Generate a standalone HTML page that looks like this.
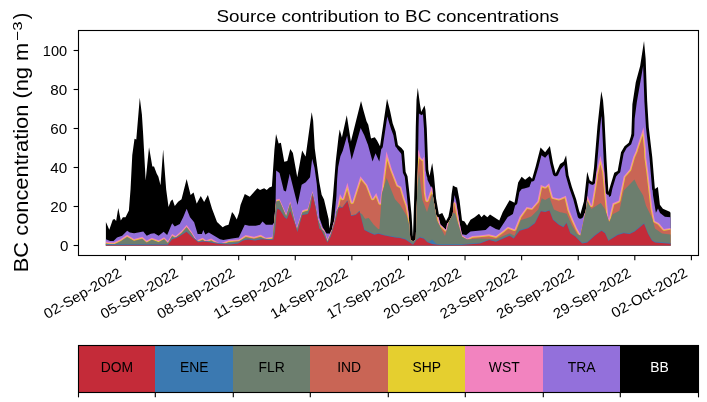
<!DOCTYPE html>
<html><head><meta charset="utf-8"><style>
html,body{margin:0;padding:0;background:#fff;}
body{width:707px;height:402px;overflow:hidden;font-family:"Liberation Sans",sans-serif;}
svg{display:block;will-change:transform;}
</style></head><body>
<svg width="707" height="402" viewBox="0 0 707 402">
<rect width="707" height="402" fill="#fff"/>
<g>
<polygon fill="#000000" points="105.90,245.5 105.90,222.00 109.28,229.84 112.78,219.66 114.40,218.90 116.15,220.94 118.28,207.96 120.78,220.48 122.90,217.20 125.53,217.15 128.90,210.40 130.53,189.49 132.28,154.96 134.53,138.81 136.28,139.39 139.78,97.86 141.90,114.57 143.15,134.21 145.65,180.50 149.03,147.35 152.28,166.35 152.40,166.49 154.03,166.47 156.65,173.40 158.40,176.80 160.53,185.20 163.15,149.46 166.15,189.34 168.53,206.93 170.65,201.16 172.40,199.59 172.53,199.57 174.78,205.91 178.15,201.86 181.53,199.20 186.65,179.10 190.53,194.80 190.65,195.06 193.53,192.56 193.65,192.68 196.65,203.52 196.78,203.56 200.78,196.05 204.15,201.91 207.90,195.10 212.03,208.77 217.03,222.10 222.65,227.37 225.15,225.73 228.53,224.82 232.03,212.03 234.03,214.54 236.78,219.46 239.03,212.87 240.53,204.94 244.78,194.06 249.78,196.69 257.40,188.20 260.02,189.89 264.15,188.22 266.77,189.88 269.27,187.43 271.90,186.50 274.40,150.00 276.02,134.09 278.65,143.58 280.90,142.70 284.27,161.66 284.40,161.77 287.27,161.01 290.27,148.90 292.90,152.94 297.27,177.36 302.15,150.59 305.52,156.47 305.65,156.24 311.65,112.56 311.77,112.62 313.15,120.87 314.77,148.56 319.27,182.01 321.65,194.73 324.02,199.41 328.65,219.29 329.27,228.41 330.52,221.74 333.02,195.69 335.77,161.34 338.52,137.06 339.65,129.72 339.77,129.68 341.90,137.60 346.77,115.31 350.90,141.50 361.02,101.10 363.15,109.37 366.52,121.14 368.27,124.75 371.02,138.39 374.77,137.31 377.02,140.55 380.02,146.33 387.02,98.80 390.15,111.14 392.65,123.16 395.65,131.86 397.90,145.10 401.52,148.04 403.90,151.00 405.65,172.11 407.52,176.23 409.52,194.32 411.52,214.73 412.77,235.22 413.02,236.79 415.15,166.88 415.77,127.19 416.52,99.76 417.77,87.64 419.90,103.90 421.15,111.69 421.27,111.85 424.52,105.45 425.52,110.36 426.77,128.44 428.27,169.41 429.40,175.50 429.52,175.88 432.15,163.24 432.27,163.54 434.02,176.27 436.02,198.14 438.90,214.50 442.27,213.01 446.02,220.96 448.40,216.80 450.52,206.05 451.52,194.82 452.90,185.46 455.52,187.01 457.15,187.49 459.52,200.21 462.02,220.61 464.52,221.44 467.02,225.58 467.15,225.61 470.52,219.69 474.65,217.23 479.02,213.83 481.52,217.17 484.02,214.62 487.40,217.20 490.02,214.62 499.27,220.58 502.77,211.97 509.52,200.21 514.52,202.66 518.15,182.58 521.65,176.78 525.15,179.66 529.52,176.22 532.02,178.72 532.15,178.63 535.65,166.40 540.52,147.43 545.15,152.25 549.90,146.00 553.02,163.20 555.65,173.49 560.02,163.98 563.52,161.74 566.02,155.58 566.15,155.81 568.52,175.29 571.90,187.10 576.15,199.20 579.15,210.95 580.40,214.00 583.90,201.50 587.15,172.25 587.27,172.05 589.65,180.13 592.27,181.98 594.02,167.70 597.52,125.77 601.27,91.23 603.02,100.30 604.40,117.00 606.52,160.42 608.40,191.90 614.27,172.68 617.65,170.93 621.02,152.26 624.52,146.18 628.77,142.72 630.77,136.70 631.40,133.82 632.40,104.34 635.77,82.16 640.15,66.08 644.02,41.08 645.65,58.81 647.15,100.82 648.77,127.49 652.27,157.29 654.90,188.90 657.90,186.90 659.90,204.80 662.90,208.80 669.77,211.69 670.52,212.64 670.60,245.5"/>
<polygon fill="#9370db" points="105.90,245.5 105.90,239.20 110.15,240.88 113.53,240.90 117.03,237.49 122.15,235.75 127.15,230.75 129.78,232.42 134.03,233.29 138.15,232.41 143.28,231.60 146.78,235.76 150.90,233.80 154.28,233.30 158.65,235.76 163.65,231.64 167.15,234.88 172.15,223.22 174.78,226.46 179.78,224.01 183.15,217.30 186.65,208.83 190.03,217.23 194.15,222.24 197.65,234.10 201.90,234.10 203.28,230.06 205.28,234.45 208.78,232.45 220.03,239.21 223.40,240.07 232.03,238.40 238.78,237.50 244.78,224.82 249.03,225.70 255.78,225.68 260.02,224.77 262.52,221.42 265.90,224.80 272.65,224.80 273.90,222.86 274.02,222.26 275.52,205.81 276.15,170.44 279.52,173.00 283.77,190.60 285.90,191.56 289.65,174.04 289.77,174.10 297.52,204.88 301.65,184.77 305.77,182.31 310.02,177.29 312.15,158.69 314.52,167.67 316.77,183.93 319.40,217.69 322.90,227.70 326.52,233.38 330.02,233.50 331.15,230.51 332.02,229.21 332.77,225.23 334.02,221.17 336.40,196.07 337.15,178.90 338.15,166.93 340.40,156.30 342.77,150.74 347.15,135.61 348.15,142.03 348.65,143.51 351.65,159.82 360.65,128.00 364.27,135.35 368.02,145.09 372.52,161.43 375.52,153.35 379.27,161.45 381.27,148.96 382.27,148.00 382.77,146.86 387.27,116.40 391.15,129.23 393.40,135.21 395.27,146.07 395.77,146.92 396.90,147.89 397.27,148.89 400.90,153.30 401.40,154.62 402.90,172.63 404.77,176.79 406.77,194.85 408.77,215.26 410.27,238.74 410.77,239.88 411.65,240.65 412.77,241.00 414.02,240.83 415.15,240.04 415.77,238.74 417.90,167.40 418.52,127.71 418.90,113.65 419.02,113.52 419.90,114.29 421.02,114.64 421.27,115.24 422.90,114.13 423.02,114.50 424.02,128.97 425.52,169.93 426.65,176.03 427.27,177.55 427.52,180.05 431.27,187.82 431.90,186.30 432.40,189.18 433.27,198.67 436.27,215.47 437.15,216.69 438.52,217.27 440.40,224.40 445.90,229.80 447.15,223.52 447.90,223.04 448.40,222.44 452.40,215.44 452.77,214.21 454.40,194.98 456.02,200.37 459.27,221.13 461.90,234.24 466.15,234.99 470.52,231.60 485.65,229.91 490.02,225.71 495.90,229.00 499.27,229.89 507.77,217.04 512.90,214.00 515.02,205.67 515.15,205.39 516.52,204.62 517.27,203.39 519.40,192.11 521.77,188.99 524.27,188.50 529.40,187.03 531.40,181.45 532.27,181.51 533.15,181.29 534.02,180.71 534.52,180.11 538.27,167.39 541.40,155.18 545.15,157.86 548.40,153.96 550.27,163.73 552.77,173.82 553.15,174.78 554.02,175.77 554.90,176.19 555.90,176.28 556.90,176.00 557.65,175.45 558.15,174.75 560.65,169.33 564.40,164.89 565.77,175.81 569.27,188.07 573.40,199.76 577.77,216.87 578.27,217.72 579.15,218.41 580.15,218.69 581.27,218.56 582.15,218.09 582.77,217.38 585.65,211.33 588.77,183.04 590.90,184.42 592.52,184.82 593.02,185.32 593.27,184.60 594.52,183.65 595.02,182.51 596.77,168.23 600.27,126.30 601.40,115.93 601.65,117.53 603.77,160.95 605.65,192.53 606.02,193.48 606.77,194.28 607.65,194.70 608.65,194.79 609.02,196.98 610.90,195.67 612.40,188.45 616.02,176.55 618.40,173.74 619.77,172.75 620.27,171.90 623.65,153.39 626.65,148.08 630.65,144.80 631.15,144.20 634.15,135.33 634.65,118.77 636.77,102.57 643.15,65.98 644.40,101.35 646.02,128.02 649.52,157.82 652.15,189.43 652.65,190.57 653.02,195.15 655.90,212.70 658.02,208.56 660.02,213.02 664.90,216.70 670.52,217.37 670.60,245.5"/>
<polygon fill="#f283bf" points="105.90,245.5 105.90,241.60 110.15,242.30 113.65,242.48 120.40,239.30 127.15,234.83 134.03,238.99 142.40,236.80 146.65,240.56 151.78,237.71 158.65,240.27 164.15,237.23 167.90,241.10 172.15,233.88 175.65,235.96 181.53,230.87 186.65,225.07 191.65,231.63 196.78,240.16 202.65,237.72 206.15,240.28 211.15,238.52 219.28,243.18 220.65,243.33 228.65,240.20 238.78,239.40 245.65,235.11 254.03,236.79 260.77,234.81 265.90,237.70 272.65,236.81 276.15,199.49 279.52,198.66 286.15,214.08 290.15,201.46 290.27,201.61 296.65,227.79 302.27,210.28 307.90,208.60 312.52,190.92 317.90,217.10 321.65,227.17 324.15,229.75 327.40,239.30 330.52,232.46 331.15,230.51 331.77,229.72 332.15,228.76 332.77,225.23 334.65,219.06 339.90,193.90 342.65,198.52 342.77,198.35 347.40,182.70 352.15,202.14 360.40,176.20 367.40,185.00 372.52,198.40 372.65,198.52 376.27,193.04 380.02,203.00 386.40,151.30 392.02,169.76 397.90,185.00 401.27,186.69 404.65,198.33 407.15,205.16 408.40,211.66 408.77,215.26 410.27,238.74 410.65,239.70 411.52,240.58 412.65,240.99 413.77,240.91 415.02,240.17 415.77,238.74 417.15,195.53 418.15,152.10 418.52,149.40 420.52,157.33 422.40,159.30 424.15,156.38 425.65,191.10 425.77,192.76 427.02,200.23 431.90,186.30 432.40,189.18 433.27,198.67 436.27,215.47 437.15,216.69 438.52,217.27 440.40,224.40 445.90,229.80 447.15,223.52 447.90,223.04 448.40,222.44 452.52,215.15 452.77,214.21 453.90,201.20 456.02,203.03 459.27,221.13 462.02,235.12 467.02,238.45 472.27,235.99 479.02,235.50 489.02,234.31 495.90,236.00 502.65,230.94 507.77,226.72 514.52,229.17 519.65,216.62 526.40,207.24 526.52,207.10 531.65,207.94 537.40,201.32 540.77,185.12 540.90,185.04 545.15,186.78 549.15,183.34 553.02,197.31 558.77,198.59 560.02,198.29 565.90,195.70 569.40,210.35 573.02,219.36 576.90,228.07 580.40,234.30 583.15,222.92 584.27,214.36 585.65,211.33 587.40,195.78 591.40,205.30 595.90,178.12 596.02,174.89 600.40,155.70 603.52,169.85 604.15,171.64 604.90,179.90 605.65,192.53 606.15,193.67 606.27,194.64 608.65,219.59 612.65,203.28 618.52,200.83 618.65,200.56 623.65,176.44 629.65,169.23 633.15,156.98 635.90,150.77 636.02,149.92 643.52,127.23 645.90,149.04 646.27,157.63 648.27,172.61 652.40,208.43 654.90,221.00 658.90,223.00 663.90,228.90 670.52,227.94 670.60,245.5"/>
<polygon fill="#e5cf2f" points="105.90,245.5 105.90,242.71 110.03,243.40 114.03,243.51 120.90,240.28 127.28,236.14 133.90,240.09 142.03,238.03 146.40,241.63 147.28,241.54 151.90,238.92 158.65,241.37 159.15,241.25 164.03,238.61 167.15,241.90 167.65,242.17 168.15,242.17 168.78,241.71 172.53,235.40 175.15,236.99 175.78,237.05 176.28,236.86 182.28,231.68 186.53,226.77 190.78,232.30 194.53,238.47 197.65,241.03 202.53,238.97 205.40,241.07 206.90,241.18 211.03,239.73 216.53,242.84 220.03,243.30 223.28,243.46 228.90,241.28 239.15,240.44 245.78,236.29 254.03,237.89 260.65,235.99 265.77,238.79 272.77,237.90 276.02,202.42 276.15,201.59 277.02,201.36 277.15,200.36 278.77,199.93 279.27,200.76 279.52,200.76 285.65,215.02 285.90,215.15 286.52,215.12 286.65,214.85 290.15,203.56 290.27,203.71 295.02,223.19 296.65,228.74 296.90,228.87 297.15,228.67 302.27,212.38 302.77,212.16 303.27,211.06 308.15,209.67 312.52,193.02 315.15,205.09 317.90,219.20 321.40,228.54 323.15,230.21 323.52,231.15 324.15,231.85 327.02,240.30 327.77,240.33 330.65,234.24 334.52,221.64 336.15,213.99 336.27,211.86 337.90,208.78 340.40,196.92 342.02,199.42 342.90,199.59 343.65,199.01 347.27,186.96 351.02,202.45 351.77,203.18 352.27,203.24 352.77,203.05 353.15,202.60 360.90,178.60 366.40,185.51 371.65,199.07 372.52,199.62 373.40,199.33 376.02,195.46 378.90,203.38 379.27,203.83 379.90,204.09 380.40,204.03 380.90,203.66 381.15,203.00 381.40,200.97 381.90,193.70 382.65,190.83 386.90,156.69 391.02,170.22 396.90,185.46 397.40,185.98 400.40,187.51 403.65,198.78 406.15,205.70 409.15,221.60 410.27,238.74 410.65,239.70 411.52,240.58 412.65,240.99 413.77,240.91 415.02,240.17 415.77,238.74 418.02,162.10 418.90,155.40 419.65,157.99 421.77,160.21 422.52,160.39 423.15,160.10 424.52,191.10 424.65,192.76 426.02,200.69 426.40,201.13 427.02,201.33 427.65,201.13 428.02,200.69 431.65,190.59 432.27,193.65 432.40,193.94 432.52,193.75 436.15,215.03 436.52,215.98 437.27,216.78 439.27,224.66 445.40,230.78 446.02,230.89 446.52,230.64 447.52,227.13 448.52,222.22 452.52,215.15 452.77,214.21 453.77,202.51 455.02,203.70 459.77,229.20 461.90,236.36 466.90,239.44 467.77,239.39 472.52,237.08 479.15,236.59 489.02,235.42 496.15,237.07 503.27,231.84 508.02,227.95 514.15,230.21 515.02,230.15 515.65,229.53 520.65,217.08 526.90,208.42 527.02,208.31 531.40,209.08 532.15,208.92 538.27,201.98 538.65,201.08 541.65,186.54 545.27,187.87 545.90,187.64 548.52,185.35 551.90,197.39 552.40,198.21 558.90,199.69 560.40,199.32 565.15,197.29 568.40,210.81 572.02,219.81 576.02,228.80 579.52,234.97 580.40,235.40 585.65,211.33 586.65,204.17 587.65,199.21 590.52,205.97 591.15,206.37 591.77,206.33 592.27,205.97 592.52,205.30 597.02,178.12 597.15,174.89 600.40,160.79 602.40,169.85 603.02,171.64 607.15,215.96 608.65,220.69 609.27,220.50 609.77,219.59 613.52,204.13 619.02,201.81 619.65,201.02 624.77,176.64 630.65,169.68 634.15,157.43 636.90,151.23 637.15,150.00 643.02,132.27 644.77,149.04 645.15,157.63 647.15,172.61 651.27,208.43 653.90,221.46 654.40,221.98 658.27,223.96 663.40,229.88 664.02,229.99 670.52,229.05 670.60,245.5"/>
<polygon fill="#c96555" points="105.90,245.5 105.90,243.42 110.03,244.10 114.28,244.16 121.03,240.99 127.15,236.93 133.15,240.57 133.78,240.78 134.40,240.75 141.90,238.79 142.40,238.90 146.15,242.21 146.53,242.35 147.53,242.19 151.90,239.71 157.90,241.96 158.90,242.05 164.15,239.33 167.53,242.80 168.03,242.89 172.15,235.98 174.90,237.64 177.03,236.84 181.53,232.97 186.65,227.17 191.65,233.73 194.53,238.47 198.28,241.49 202.40,239.78 202.78,239.86 204.28,240.98 208.40,241.38 211.03,240.48 214.78,242.61 220.03,243.30 225.03,243.55 229.03,241.97 239.40,241.09 246.03,237.02 254.03,238.59 260.52,236.75 264.27,238.80 268.52,239.17 272.65,238.62 276.15,201.59 277.77,201.16 277.90,200.88 278.40,200.75 278.65,200.93 279.52,200.76 286.02,215.88 286.27,215.88 286.40,215.66 290.15,203.56 290.27,203.71 294.90,222.71 296.90,229.46 302.27,212.38 303.65,211.91 303.77,211.65 307.90,210.47 308.02,210.22 312.52,193.02 315.15,205.09 317.90,219.20 321.65,229.27 324.15,231.85 327.27,241.03 327.52,241.09 330.65,234.24 334.65,221.16 336.15,213.99 336.27,211.86 339.15,206.42 340.77,198.87 341.40,199.81 342.40,200.30 343.52,200.09 344.27,199.33 347.15,189.92 350.40,202.76 350.90,203.44 351.77,203.90 352.65,203.87 353.40,203.44 353.90,202.60 361.15,180.03 365.77,185.84 371.15,199.56 372.27,200.28 373.52,200.10 374.02,199.68 375.77,197.05 378.52,204.08 379.15,204.57 379.77,204.78 380.52,204.72 381.15,204.39 381.90,193.70 383.90,186.78 387.27,160.38 390.27,170.22 396.27,185.77 396.90,186.50 399.77,187.95 402.90,198.78 405.40,205.70 408.90,224.25 409.40,226.12 410.27,238.74 410.65,239.70 411.52,240.58 412.65,240.99 413.77,240.91 415.02,240.17 415.77,238.74 417.52,182.79 418.40,165.10 419.27,158.62 421.40,160.80 422.52,161.10 423.77,191.10 423.90,192.76 425.27,200.69 425.77,201.52 426.65,201.99 427.52,201.95 428.27,201.52 428.77,200.69 431.40,193.19 431.90,195.49 432.52,193.75 435.90,214.27 437.90,222.22 440.40,226.89 445.15,231.43 446.27,231.52 449.27,220.97 452.52,215.15 452.77,214.21 453.65,203.30 454.27,203.81 454.40,204.38 457.77,222.47 462.02,236.71 466.90,239.44 469.52,239.29 472.77,237.76 479.27,237.28 488.90,236.14 495.52,237.76 496.27,237.76 496.90,237.50 503.65,232.43 508.15,228.75 514.02,230.90 515.27,230.81 516.27,229.85 521.27,217.40 527.27,209.09 531.40,209.78 532.52,209.51 538.90,202.30 539.40,201.08 542.15,187.58 544.52,188.47 545.40,188.56 546.27,188.23 548.15,186.61 551.15,197.39 551.52,198.29 552.02,198.80 558.77,200.39 560.65,199.98 564.65,198.35 567.52,210.45 571.40,220.13 575.40,229.12 578.52,234.63 580.40,235.70 585.65,211.33 587.15,201.32 587.27,201.14 587.77,202.10 587.90,201.61 589.40,205.18 590.40,206.80 591.15,207.08 592.02,206.99 592.65,206.59 593.15,205.76 597.77,178.12 597.90,174.89 600.40,164.19 601.65,169.85 602.27,171.64 606.02,212.22 608.77,221.14 608.90,221.38 609.65,221.09 610.77,218.56 614.15,204.64 619.40,202.40 619.90,201.99 620.40,201.02 625.40,177.04 630.90,170.64 631.27,170.00 634.90,157.43 637.65,151.23 637.90,150.00 642.65,135.86 644.02,149.04 644.40,157.63 646.40,172.61 650.52,208.43 653.15,221.46 653.90,222.50 657.77,224.45 662.52,230.06 663.15,230.53 664.15,230.68 670.52,229.76 670.60,245.5"/>
<polygon fill="#6c7e6e" points="105.90,245.5 105.90,243.70 108.90,244.20 114.53,244.16 120.40,241.40 127.15,236.93 134.03,241.09 142.40,238.90 146.65,242.66 151.78,239.81 158.65,242.37 164.15,239.33 167.90,243.20 172.15,235.98 174.90,237.65 177.03,236.84 181.53,232.97 186.65,227.17 191.65,233.73 194.53,238.47 198.28,241.49 198.90,241.41 202.65,239.82 204.28,240.98 208.78,241.45 211.15,240.62 214.65,242.59 220.03,243.30 225.40,243.57 228.65,242.30 238.78,241.50 245.65,237.21 254.03,238.89 260.77,236.91 264.15,238.79 269.77,239.28 272.65,238.91 276.15,201.59 279.52,200.76 286.15,216.18 290.15,203.56 290.27,203.71 294.90,222.71 296.90,229.46 302.27,212.38 307.90,210.70 312.52,193.02 315.15,205.09 317.90,219.20 321.65,229.27 324.15,231.85 327.40,241.40 330.65,234.24 334.52,221.64 336.15,213.99 336.27,211.86 339.90,205.00 341.15,206.94 342.65,206.90 347.40,200.40 351.15,215.29 355.77,214.40 359.52,210.80 360.15,213.26 362.02,214.04 365.02,218.68 365.15,218.79 368.77,217.91 373.52,224.42 378.15,229.05 379.40,229.01 381.90,193.70 386.65,177.93 391.15,189.77 395.02,199.33 400.02,204.84 406.65,215.92 409.40,226.12 410.15,237.85 410.40,239.19 410.90,240.04 411.65,240.65 412.65,240.99 413.65,240.94 415.02,240.17 415.77,238.74 417.40,186.56 419.02,171.41 422.40,200.00 426.90,211.74 427.02,211.92 432.52,193.75 436.90,220.40 445.02,235.91 449.27,220.97 452.52,215.15 452.90,212.65 455.15,213.78 455.27,214.05 462.02,236.71 467.02,239.50 479.02,238.50 495.90,239.00 509.52,233.31 514.52,235.76 520.90,220.00 526.02,218.49 531.27,216.51 538.27,209.62 541.77,198.34 545.15,199.98 549.52,197.44 553.90,209.60 560.02,212.20 562.02,212.51 566.77,213.69 571.90,225.60 576.90,233.84 580.40,235.70 585.65,211.33 587.27,201.14 591.40,209.00 600.65,203.03 600.77,203.11 605.02,209.18 609.15,222.34 609.27,222.32 612.65,214.18 619.40,210.80 623.77,190.42 634.40,179.40 638.15,187.18 643.15,195.52 646.02,205.85 651.90,217.70 655.02,228.62 662.02,233.50 670.52,234.57 670.60,245.5"/>
<polygon fill="#3b79b1" points="105.90,245.5 105.90,244.20 167.90,244.00 172.15,238.56 176.40,237.20 181.53,234.28 186.53,230.95 192.53,236.82 198.28,241.49 203.40,240.90 208.03,241.30 214.65,242.59 220.03,243.30 230.03,243.80 238.03,242.78 243.03,239.80 248.03,238.80 255.03,239.80 262.02,238.60 270.02,239.30 273.40,238.81 275.02,230.97 276.52,211.21 277.52,207.81 280.02,209.34 284.52,216.58 286.90,218.23 290.15,210.33 290.27,210.40 295.02,223.19 297.40,231.30 302.27,214.29 307.90,213.40 310.40,207.00 312.52,194.10 315.27,205.72 319.27,227.86 321.77,229.76 327.40,241.70 330.65,235.94 334.65,222.90 338.65,207.20 338.77,207.00 342.65,206.90 347.40,200.40 351.15,215.29 355.77,214.40 359.52,210.80 364.27,229.34 369.77,232.09 374.40,234.00 378.27,233.12 384.77,234.91 395.02,236.80 400.02,237.41 405.40,238.77 409.52,241.45 413.02,244.16 416.40,239.40 419.77,236.72 423.90,238.10 427.40,241.50 429.02,242.10 432.02,239.53 435.90,243.50 436.02,243.86 439.15,244.20 461.27,244.20 479.90,242.81 489.15,239.41 495.90,241.10 509.52,235.12 513.77,237.68 519.65,230.07 528.15,227.51 534.90,222.48 540.90,210.50 545.15,211.39 549.40,209.70 552.90,219.09 558.77,224.08 563.40,226.60 566.52,222.37 570.27,232.55 575.27,235.88 582.15,242.69 587.27,241.73 594.77,235.02 601.52,230.06 605.02,232.56 608.40,240.10 617.77,234.18 623.65,232.51 629.65,233.28 634.77,230.74 644.02,223.06 648.02,232.94 651.90,239.80 655.02,241.80 670.52,243.08 670.60,245.5"/>
<polygon fill="#c42b39" points="105.90,245.5 105.90,244.90 167.90,244.70 172.15,239.26 176.40,237.90 181.53,234.98 186.53,231.65 192.53,237.52 198.28,242.19 203.40,241.60 208.03,242.00 214.65,243.29 220.03,244.00 230.03,244.50 238.03,243.48 243.03,240.50 248.03,239.50 255.03,240.50 262.02,239.30 270.02,240.00 273.40,239.51 275.02,231.67 276.52,211.91 277.52,208.51 280.02,210.04 284.52,217.28 286.90,218.93 290.15,211.03 290.27,211.10 295.02,223.89 297.40,232.00 302.27,214.99 307.90,214.10 310.40,207.70 312.52,194.80 315.27,206.42 319.27,228.56 321.77,230.46 327.40,242.40 330.65,236.64 334.65,223.60 338.65,207.90 338.77,207.70 342.65,207.60 347.40,201.10 351.15,215.99 355.77,215.10 359.52,211.50 364.27,230.04 369.77,232.79 374.40,234.70 378.27,233.82 384.77,235.61 395.02,237.50 400.02,238.11 405.40,239.47 409.52,242.15 413.02,244.86 416.40,240.10 419.77,237.42 423.90,238.80 427.40,242.20 432.77,244.19 439.15,244.90 461.27,244.90 479.90,243.51 489.15,240.11 495.90,241.80 509.52,235.82 513.77,238.38 519.65,230.77 528.15,228.21 534.90,223.18 540.90,211.20 545.15,212.09 549.40,210.40 552.90,219.78 558.77,224.78 563.40,227.30 566.52,223.07 570.27,233.25 575.27,236.58 582.15,243.39 587.27,242.43 594.77,235.72 601.52,230.76 605.02,233.26 608.40,240.80 617.77,234.88 623.65,233.21 629.65,233.98 634.77,231.44 644.02,223.76 648.02,233.64 651.90,240.50 655.02,242.50 670.52,243.78 670.60,245.5"/>
</g>
<rect x="78.5" y="30.5" width="620.0" height="225.0" fill="none" stroke="#000" stroke-width="1.11"/>
<text x="387.8" y="22.1" font-family="Liberation Sans, sans-serif" font-size="17.0" text-anchor="middle" textLength="342.5" lengthAdjust="spacingAndGlyphs">Source contribution to BC concentrations</text>
<line x1="73.6" y1="245.5" x2="78.5" y2="245.5" stroke="#000" stroke-width="1.11"/>
<text x="68.5" y="250.55" font-family="Liberation Sans, sans-serif" font-size="14.2" text-anchor="end" textLength="8.4" lengthAdjust="spacingAndGlyphs">0</text>
<line x1="73.6" y1="206.5" x2="78.5" y2="206.5" stroke="#000" stroke-width="1.11"/>
<text x="67.1" y="211.55" font-family="Liberation Sans, sans-serif" font-size="14.2" text-anchor="end" textLength="16.9" lengthAdjust="spacingAndGlyphs">20</text>
<line x1="73.6" y1="167.5" x2="78.5" y2="167.5" stroke="#000" stroke-width="1.11"/>
<text x="67.1" y="172.55" font-family="Liberation Sans, sans-serif" font-size="14.2" text-anchor="end" textLength="16.9" lengthAdjust="spacingAndGlyphs">40</text>
<line x1="73.6" y1="128.5" x2="78.5" y2="128.5" stroke="#000" stroke-width="1.11"/>
<text x="67.1" y="133.55" font-family="Liberation Sans, sans-serif" font-size="14.2" text-anchor="end" textLength="16.9" lengthAdjust="spacingAndGlyphs">60</text>
<line x1="73.6" y1="89.5" x2="78.5" y2="89.5" stroke="#000" stroke-width="1.11"/>
<text x="67.1" y="94.55" font-family="Liberation Sans, sans-serif" font-size="14.2" text-anchor="end" textLength="16.9" lengthAdjust="spacingAndGlyphs">80</text>
<line x1="73.6" y1="50.5" x2="78.5" y2="50.5" stroke="#000" stroke-width="1.11"/>
<text x="67.1" y="55.55" font-family="Liberation Sans, sans-serif" font-size="14.2" text-anchor="end" textLength="24.3" lengthAdjust="spacingAndGlyphs">100</text>
<line x1="125.50" y1="255.5" x2="125.50" y2="260.36" stroke="#000" stroke-width="1.11"/>
<text transform="translate(117.40,266.8) rotate(-30)" x="0" y="0" font-family="Liberation Sans, sans-serif" font-size="14.3" text-anchor="end" dominant-baseline="hanging" textLength="86.9" lengthAdjust="spacingAndGlyphs">02-Sep-2022</text>
<line x1="182.09" y1="255.5" x2="182.09" y2="260.36" stroke="#000" stroke-width="1.11"/>
<text transform="translate(173.99,266.8) rotate(-30)" x="0" y="0" font-family="Liberation Sans, sans-serif" font-size="14.3" text-anchor="end" dominant-baseline="hanging" textLength="86.9" lengthAdjust="spacingAndGlyphs">05-Sep-2022</text>
<line x1="238.68" y1="255.5" x2="238.68" y2="260.36" stroke="#000" stroke-width="1.11"/>
<text transform="translate(230.58,266.8) rotate(-30)" x="0" y="0" font-family="Liberation Sans, sans-serif" font-size="14.3" text-anchor="end" dominant-baseline="hanging" textLength="86.9" lengthAdjust="spacingAndGlyphs">08-Sep-2022</text>
<line x1="295.27" y1="255.5" x2="295.27" y2="260.36" stroke="#000" stroke-width="1.11"/>
<text transform="translate(287.17,266.8) rotate(-30)" x="0" y="0" font-family="Liberation Sans, sans-serif" font-size="14.3" text-anchor="end" dominant-baseline="hanging" textLength="86.9" lengthAdjust="spacingAndGlyphs">11-Sep-2022</text>
<line x1="351.86" y1="255.5" x2="351.86" y2="260.36" stroke="#000" stroke-width="1.11"/>
<text transform="translate(343.76,266.8) rotate(-30)" x="0" y="0" font-family="Liberation Sans, sans-serif" font-size="14.3" text-anchor="end" dominant-baseline="hanging" textLength="86.9" lengthAdjust="spacingAndGlyphs">14-Sep-2022</text>
<line x1="408.45" y1="255.5" x2="408.45" y2="260.36" stroke="#000" stroke-width="1.11"/>
<text transform="translate(400.35,266.8) rotate(-30)" x="0" y="0" font-family="Liberation Sans, sans-serif" font-size="14.3" text-anchor="end" dominant-baseline="hanging" textLength="86.9" lengthAdjust="spacingAndGlyphs">17-Sep-2022</text>
<line x1="465.04" y1="255.5" x2="465.04" y2="260.36" stroke="#000" stroke-width="1.11"/>
<text transform="translate(456.94,266.8) rotate(-30)" x="0" y="0" font-family="Liberation Sans, sans-serif" font-size="14.3" text-anchor="end" dominant-baseline="hanging" textLength="86.9" lengthAdjust="spacingAndGlyphs">20-Sep-2022</text>
<line x1="521.63" y1="255.5" x2="521.63" y2="260.36" stroke="#000" stroke-width="1.11"/>
<text transform="translate(513.53,266.8) rotate(-30)" x="0" y="0" font-family="Liberation Sans, sans-serif" font-size="14.3" text-anchor="end" dominant-baseline="hanging" textLength="86.9" lengthAdjust="spacingAndGlyphs">23-Sep-2022</text>
<line x1="578.22" y1="255.5" x2="578.22" y2="260.36" stroke="#000" stroke-width="1.11"/>
<text transform="translate(570.12,266.8) rotate(-30)" x="0" y="0" font-family="Liberation Sans, sans-serif" font-size="14.3" text-anchor="end" dominant-baseline="hanging" textLength="86.9" lengthAdjust="spacingAndGlyphs">26-Sep-2022</text>
<line x1="634.81" y1="255.5" x2="634.81" y2="260.36" stroke="#000" stroke-width="1.11"/>
<text transform="translate(626.71,266.8) rotate(-30)" x="0" y="0" font-family="Liberation Sans, sans-serif" font-size="14.3" text-anchor="end" dominant-baseline="hanging" textLength="86.9" lengthAdjust="spacingAndGlyphs">29-Sep-2022</text>
<line x1="691.40" y1="255.5" x2="691.40" y2="260.36" stroke="#000" stroke-width="1.11"/>
<text transform="translate(683.30,266.8) rotate(-30)" x="0" y="0" font-family="Liberation Sans, sans-serif" font-size="14.3" text-anchor="end" dominant-baseline="hanging" textLength="85.1" lengthAdjust="spacingAndGlyphs">02-Oct-2022</text>
<text transform="translate(27.9,272.2) rotate(-90)" x="0" y="0" font-family="Liberation Sans, sans-serif" font-size="19.44" textLength="229.5" lengthAdjust="spacingAndGlyphs">BC concentration (ng m</text>
<text transform="translate(21.6,40.6) rotate(-90)" x="0" y="0" font-family="Liberation Sans, sans-serif" font-size="13.6" textLength="19.2" lengthAdjust="spacingAndGlyphs">−3</text>
<text transform="translate(27.9,19.3) rotate(-90)" x="0" y="0" font-family="Liberation Sans, sans-serif" font-size="19.44">)</text>
<rect x="78.50" y="345.5" width="76.50" height="47.0" fill="#c42b39"/>
<text x="116.95" y="372.0" font-family="Liberation Sans, sans-serif" font-size="13.89" text-anchor="middle" fill="#000">DOM</text>
<rect x="155.00" y="345.5" width="78.00" height="47.0" fill="#3b79b1"/>
<text x="194.20" y="372.0" font-family="Liberation Sans, sans-serif" font-size="13.89" text-anchor="middle" fill="#000">ENE</text>
<rect x="233.00" y="345.5" width="77.00" height="47.0" fill="#6c7e6e"/>
<text x="271.70" y="372.0" font-family="Liberation Sans, sans-serif" font-size="13.89" text-anchor="middle" fill="#000">FLR</text>
<rect x="310.00" y="345.5" width="78.00" height="47.0" fill="#c96555"/>
<text x="349.20" y="372.0" font-family="Liberation Sans, sans-serif" font-size="13.89" text-anchor="middle" fill="#000">IND</text>
<rect x="388.00" y="345.5" width="77.00" height="47.0" fill="#e5cf2f"/>
<text x="426.70" y="372.0" font-family="Liberation Sans, sans-serif" font-size="13.89" text-anchor="middle" fill="#000">SHP</text>
<rect x="465.00" y="345.5" width="78.00" height="47.0" fill="#f283bf"/>
<text x="504.20" y="372.0" font-family="Liberation Sans, sans-serif" font-size="13.89" text-anchor="middle" fill="#000">WST</text>
<rect x="543.00" y="345.5" width="77.00" height="47.0" fill="#9370db"/>
<text x="581.70" y="372.0" font-family="Liberation Sans, sans-serif" font-size="13.89" text-anchor="middle" fill="#000">TRA</text>
<rect x="620.00" y="345.5" width="78.50" height="47.0" fill="#000000"/>
<text x="659.45" y="372.0" font-family="Liberation Sans, sans-serif" font-size="13.89" text-anchor="middle" fill="#fff">BB</text>
<line x1="78.50" y1="392.5" x2="78.50" y2="397.36" stroke="#000" stroke-width="1.11"/>
<line x1="155.30" y1="392.5" x2="155.30" y2="397.36" stroke="#000" stroke-width="1.11"/>
<line x1="233.30" y1="392.5" x2="233.30" y2="397.36" stroke="#000" stroke-width="1.11"/>
<line x1="310.30" y1="392.5" x2="310.30" y2="397.36" stroke="#000" stroke-width="1.11"/>
<line x1="388.30" y1="392.5" x2="388.30" y2="397.36" stroke="#000" stroke-width="1.11"/>
<line x1="465.30" y1="392.5" x2="465.30" y2="397.36" stroke="#000" stroke-width="1.11"/>
<line x1="543.30" y1="392.5" x2="543.30" y2="397.36" stroke="#000" stroke-width="1.11"/>
<line x1="620.30" y1="392.5" x2="620.30" y2="397.36" stroke="#000" stroke-width="1.11"/>
<line x1="698.50" y1="392.5" x2="698.50" y2="397.36" stroke="#000" stroke-width="1.11"/>
<rect x="78.5" y="345.5" width="620.0" height="47.0" fill="none" stroke="#000" stroke-width="1.11"/>
</svg>
</body></html>
